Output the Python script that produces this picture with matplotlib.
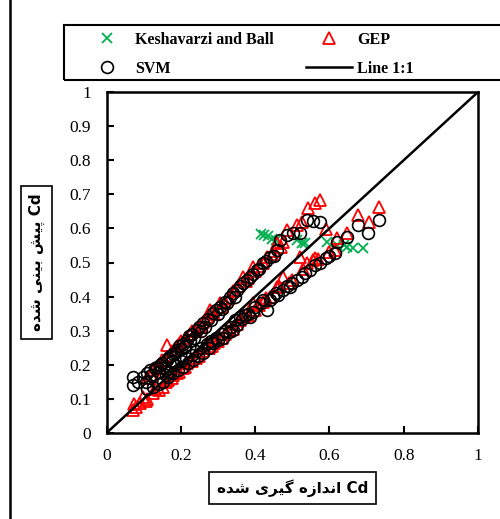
import matplotlib
matplotlib.use('Agg')
import matplotlib.pyplot as plt
from matplotlib.patches import Rectangle

# Keshavarzi and Ball (only the visible points)
kb_x = [0.415, 0.425, 0.435, 0.445, 0.455, 0.512, 0.525, 0.534, 0.593, 0.620, 0.640, 0.647, 0.664, 0.690]
kb_y = [0.585, 0.582, 0.578, 0.570, 0.566, 0.566, 0.557, 0.557, 0.560, 0.551, 0.550, 0.545, 0.542, 0.542]

# GEP
gep_x = [0.072, 0.075, 0.090, 0.099, 0.105, 0.125, 0.130, 0.152, 0.160, 0.175,
         0.190, 0.205, 0.216, 0.230, 0.250, 0.270, 0.285, 0.300, 0.320, 0.340,
         0.360, 0.380, 0.394, 0.410, 0.430, 0.459, 0.475, 0.490, 0.520, 0.540,
         0.556, 0.561, 0.590, 0.615, 0.620, 0.647, 0.678, 0.707, 0.734,
         0.080, 0.110, 0.140, 0.165, 0.180, 0.195, 0.210, 0.240, 0.260, 0.275,
         0.290, 0.310, 0.330, 0.350, 0.370, 0.400, 0.420, 0.440, 0.465, 0.500,
         0.530, 0.570, 0.600,
         0.110, 0.125, 0.140, 0.150, 0.162, 0.175, 0.190, 0.200, 0.215, 0.230,
         0.245, 0.260, 0.279, 0.290, 0.305, 0.320, 0.340, 0.355, 0.368, 0.380,
         0.394, 0.410, 0.431, 0.445, 0.459, 0.470, 0.486, 0.512, 0.525, 0.543,
         0.561, 0.575,
         0.120, 0.135, 0.155, 0.170, 0.185, 0.195, 0.210, 0.225, 0.240, 0.255,
         0.270, 0.285, 0.310, 0.330, 0.345, 0.375, 0.400, 0.420, 0.450, 0.475]
gep_y = [0.067, 0.085, 0.088, 0.106, 0.095, 0.117, 0.130, 0.135, 0.150, 0.160,
         0.175, 0.190, 0.205, 0.210, 0.225, 0.264, 0.255, 0.270, 0.290, 0.305,
         0.330, 0.345, 0.380, 0.375, 0.395, 0.428, 0.457, 0.440, 0.516, 0.500,
         0.507, 0.513, 0.598, 0.537, 0.572, 0.586, 0.640, 0.620, 0.663,
         0.075, 0.100, 0.125, 0.155, 0.170, 0.180, 0.195, 0.220, 0.240, 0.250,
         0.265, 0.280, 0.300, 0.320, 0.340, 0.360, 0.385, 0.400, 0.430, 0.450,
         0.480, 0.510, 0.530,
         0.160, 0.185, 0.200, 0.215, 0.258, 0.240, 0.255, 0.270, 0.280, 0.300,
         0.310, 0.325, 0.360, 0.350, 0.380, 0.385, 0.415, 0.430, 0.457, 0.455,
         0.487, 0.490, 0.516, 0.525, 0.557, 0.545, 0.595, 0.610, 0.619, 0.660,
         0.674, 0.683,
         0.170, 0.190, 0.210, 0.230, 0.245, 0.260, 0.270, 0.290, 0.300, 0.315,
         0.340, 0.355, 0.370, 0.395, 0.420, 0.445, 0.475, 0.500, 0.535, 0.560]

# SVM
svm_x = [0.072, 0.072, 0.085, 0.099, 0.105, 0.117, 0.120, 0.135, 0.140, 0.150,
         0.162, 0.170, 0.180, 0.189, 0.195, 0.205, 0.216, 0.222, 0.230, 0.243,
         0.250, 0.260, 0.272, 0.287, 0.295, 0.305, 0.318, 0.332, 0.340, 0.351,
         0.368, 0.378, 0.386, 0.405, 0.421, 0.430, 0.440, 0.459, 0.467, 0.486,
         0.502, 0.520, 0.540, 0.556, 0.575,
         0.110, 0.130, 0.145, 0.155, 0.165, 0.175, 0.185, 0.200, 0.210, 0.225,
         0.235, 0.255, 0.265, 0.280, 0.300, 0.310, 0.325, 0.345, 0.360, 0.395,
         0.410, 0.450,
         0.110, 0.125, 0.140, 0.152, 0.165, 0.179, 0.192, 0.206, 0.220, 0.233,
         0.245, 0.260, 0.275, 0.287, 0.300, 0.314, 0.330, 0.341, 0.350, 0.359,
         0.372, 0.386, 0.394, 0.421, 0.431, 0.449, 0.462, 0.475, 0.494, 0.512,
         0.525, 0.548, 0.561, 0.590, 0.615, 0.620, 0.647, 0.678, 0.704, 0.733,
         0.160, 0.170, 0.185, 0.200, 0.215, 0.230, 0.240, 0.255, 0.270, 0.280,
         0.295, 0.310, 0.320, 0.335, 0.345, 0.365, 0.380, 0.400, 0.415, 0.440,
         0.455, 0.485, 0.500, 0.535, 0.575, 0.600]
svm_y = [0.164, 0.140, 0.150, 0.164, 0.150, 0.185, 0.170, 0.193, 0.178, 0.205,
         0.214, 0.225, 0.232, 0.243, 0.255, 0.262, 0.273, 0.285, 0.290, 0.302,
         0.312, 0.322, 0.335, 0.352, 0.360, 0.370, 0.385, 0.400, 0.410, 0.420,
         0.440, 0.448, 0.457, 0.478, 0.498, 0.505, 0.516, 0.537, 0.566, 0.580,
         0.587, 0.587, 0.625, 0.622, 0.619,
         0.175, 0.190, 0.200, 0.190, 0.220, 0.210, 0.235, 0.245, 0.255, 0.270,
         0.280, 0.300, 0.310, 0.330, 0.350, 0.365, 0.380, 0.400, 0.430, 0.465,
         0.480, 0.520,
         0.130, 0.135, 0.145, 0.150, 0.165, 0.176, 0.185, 0.193, 0.205, 0.214,
         0.225, 0.235, 0.250, 0.264, 0.272, 0.280, 0.295, 0.302, 0.318, 0.340,
         0.345, 0.340, 0.355, 0.390, 0.360, 0.400, 0.405, 0.420, 0.428, 0.448,
         0.457, 0.478, 0.493, 0.513, 0.527, 0.560, 0.575, 0.610, 0.586, 0.625,
         0.170, 0.180, 0.200, 0.210, 0.220, 0.230, 0.240, 0.250, 0.260, 0.270,
         0.280, 0.290, 0.300, 0.310, 0.330, 0.335, 0.350, 0.370, 0.380, 0.390,
         0.410, 0.430, 0.440, 0.470, 0.500, 0.520]

line_x = [0, 1]
line_y = [0, 1]

x_ticks = [0, 0.2, 0.4, 0.6, 0.8, 1]
y_ticks = [0, 0.1, 0.2, 0.3, 0.4, 0.5, 0.6, 0.7, 0.8, 0.9, 1]

# persian labels, already shaped and in visual order
w_shode = '\uFEE9\uFEAA\uFEB7'
w_giri = '\uFBFC\uFEAE\uFBFF\uFB94'
w_andaze = '\uFEE9\uFEAF\uFE8D\uFEAA\uFEE7\uFE8D'
w_pish = '\uFEB6\uFBFF\uFB58'
w_bini = '\uFBFD\uFEE8\uFBFF\uFE91'
xlabel = w_shode + ' ' + w_giri + ' ' + w_andaze + ' Cd'
ylabel = w_shode + ' ' + w_bini + ' ' + w_pish + ' Cd'

W, H = 500, 519
fig = plt.figure(figsize=(5.0, 5.19), dpi=100)
ax = fig.add_axes([106.5 / W, 1 - 433 / H, 371.5 / W, 341 / H])

kb, = ax.plot(kb_x, kb_y, 'x', color='#00B050', ms=7, mew=1.3, label='Keshavarzi and Ball')
gep, = ax.plot(gep_x, gep_y, '^', mfc='none', mec='#FF0000', ms=8, mew=1.3, label='GEP')
svm, = ax.plot(svm_x, svm_y, 'o', mfc='none', mec='black', ms=8.5, mew=1.2, label='SVM')
ln, = ax.plot(line_x, line_y, '-', color='black', lw=1.8, label='Line 1:1')

ax.set_xlim(0, 1)
ax.set_ylim(0, 1)
ax.set_xticks(x_ticks)
ax.set_yticks(y_ticks)
ax.set_xticklabels(['%g' % t for t in x_ticks])
ax.set_yticklabels(['%g' % t for t in y_ticks])
ax.tick_params(direction='in', length=5, width=1.5, pad=11, labelsize=12.5)
for lab in ax.get_xticklabels() + ax.get_yticklabels():
    lab.set_fontfamily('Liberation Serif')
for s in ax.spines.values():
    s.set_linewidth(1.8)

# outer frame
fig.patches.append(Rectangle((10 / W, -0.2), 1.2, 1.2 + 1 - 10 / H, transform=fig.transFigure,
                             fill=False, lw=1.8, ec='black', clip_on=False))
# legend frame
fig.patches.append(Rectangle((64 / W, 1 - 80 / H), 1.0, 55 / H, transform=fig.transFigure,
                             fill=False, lw=1.5, ec='black', clip_on=False))

fig.legend([kb, svm, gep, ln], ['Keshavarzi and Ball', 'SVM', 'GEP', 'Line 1:1'],
           ncol=2, frameon=False, loc='upper left', bbox_to_anchor=(84 / W, 1 - 32 / H),
           prop={'family': 'Liberation Serif', 'weight': 'bold', 'size': 11.5},
           handlelength=2.9, handletextpad=0.3, columnspacing=2.0, labelspacing=0.8,
           borderpad=0, borderaxespad=0)

box = dict(boxstyle='square,pad=0.5', fc='white', ec='black', lw=1.2)
fig.text(292.5 / W, 1 - 488 / H, xlabel, ha='center', va='center', fontsize=11,
         fontweight='bold', family=['DejaVu Sans'], bbox=box)
fig.text(36.5 / W, 1 - 262.5 / H, ylabel, ha='center', va='center', fontsize=11,
         fontweight='bold', family=['DejaVu Sans'], rotation=90, bbox=box)

fig.savefig('out.png', dpi=100)
